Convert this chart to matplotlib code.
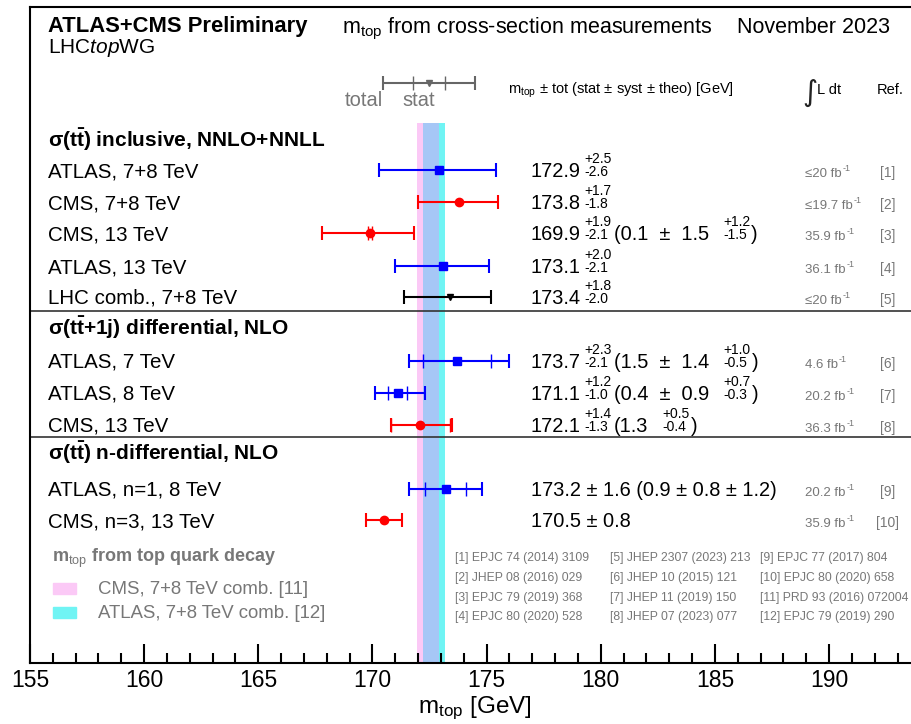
import matplotlib
matplotlib.use("Agg")
import matplotlib.pyplot as plt
from matplotlib.patches import Rectangle
from matplotlib.ticker import MultipleLocator

plt.rcParams['font.family'] = ['Liberation Sans', 'DejaVu Sans']
plt.rcParams['mathtext.fontset'] = 'custom'
plt.rcParams['mathtext.rm'] = 'Liberation Sans'
plt.rcParams['mathtext.it'] = 'Liberation Sans:italic'
plt.rcParams['mathtext.bf'] = 'Liberation Sans:bold'

W, H = 912, 724

# measurements
labels = ["ATLAS, 7+8 TeV", "CMS, 7+8 TeV", "CMS, 13 TeV", "ATLAS, 13 TeV",
          "LHC comb., 7+8 TeV", "ATLAS, 7 TeV", "ATLAS, 8 TeV", "CMS, 13 TeV",
          "ATLAS, n=1, 8 TeV", "CMS, n=3, 13 TeV"]
mtop = [172.9, 173.8, 169.9, 173.1, 173.4, 173.7, 171.1, 172.1, 173.2, 170.5]
tot_up = [2.5, 1.7, 1.9, 2.0, 1.8, 2.3, 1.2, 1.4, 1.6, 0.8]
tot_dn = [2.6, 1.8, 2.1, 2.1, 2.0, 2.1, 1.0, 1.3, 1.6, 0.8]
stat = [None, None, 0.1, None, None, 1.5, 0.4, 1.3, 0.9, None]
expt = ["ATLAS", "CMS", "CMS", "ATLAS", "LHC", "ATLAS", "ATLAS", "CMS", "ATLAS", "CMS"]

val_txt = ["172.9", "173.8", "169.9", "173.1", "173.4", "173.7", "171.1", "172.1",
           "173.2 ± 1.6 (0.9 ± 0.8 ± 1.2)", "170.5 ± 0.8"]
tot_txt = [("+2.5", "-2.6"), ("+1.7", "-1.8"), ("+1.9", "-2.1"), ("+2.0", "-2.1"),
           ("+1.8", "-2.0"), ("+2.3", "-2.1"), ("+1.2", "-1.0"), ("+1.4", "-1.3"), None, None]
brk_txt = [None, None, "(0.1  ±  1.5", None, None, "(1.5  ±  1.4", "(0.4  ±  0.9", "(1.3", None, None]
brk_ud = [None, None, ("+1.2", "-1.5"), None, None, ("+1.0", "-0.5"), ("+0.7", "-0.3"),
          ("+0.5", "-0.4"), None, None]
lumi = ["≤20", "≤19.7", "35.9", "36.1", "≤20", "4.6", "20.2", "36.3", "20.2", "35.9"]
refs = ["[1]", "[2]", "[3]", "[4]", "[5]", "[6]", "[7]", "[8]", "[9]", "[10]"]

headers = [r"σ(t$\mathbf{\bar{t}}$) inclusive, NNLO+NNLL",
           r"σ(t$\mathbf{\bar{t}}$+1j) differential, NLO",
           r"σ(t$\mathbf{\bar{t}}$) n-differential, NLO"]

# m_top from decay: combinations (centre, error)
cms_comb = (172.44, 0.48)
atlas_comb = (172.69, 0.48)

# legend key for total / stat
key_m, key_tot, key_stat = 172.48, 2.02, 0.70

bib = ["[1] EPJC 74 (2014) 3109", "[2] JHEP 08 (2016) 029", "[3] EPJC 79 (2019) 368",
       "[4] EPJC 80 (2020) 528", "[5] JHEP 2307 (2023) 213", "[6] JHEP 10 (2015) 121",
       "[7] JHEP 11 (2019) 150", "[8] JHEP 07 (2023) 077", "[9] EPJC 77 (2017) 804",
       "[10] EPJC 80 (2020) 658", "[11] PRD 93 (2016) 072004", "[12] EPJC 79 (2019) 290"]

# layout (pixel rows from top)
rows_y = [170, 202, 233, 266, 297, 361, 393, 425, 489, 520]
header_base = [147, 335, 460]
sep_y = [311, 436.5]

colors = {"ATLAS": "#0000ff", "CMS": "#ff0000", "LHC": "black"}
markers = {"ATLAS": "s", "CMS": "o", "LHC": "v"}
msize = {"ATLAS": 6, "CMS": 6, "LHC": 5}
grey = "#777777"

fig = plt.figure(figsize=(W / 100, H / 100), dpi=100)
ax = fig.add_axes([30 / W, (H - 663) / H, (914 - 30) / W, (663 - 7) / H])
ax.set_xlim(155, 193.72)
ax.set_ylim(663, 7)
ax.set_yticks([])
for s in ax.spines.values():
    s.set_linewidth(1.5)
ax.xaxis.set_major_locator(MultipleLocator(5))
ax.xaxis.set_minor_locator(MultipleLocator(1))
ax.tick_params(axis='x', which='major', direction='in', length=14, width=1.5,
               labelsize=16.5, pad=4)
ax.tick_params(axis='x', which='minor', direction='in', length=7, width=1.5)

# bands
band_y = [123, 663]
c_lo, c_hi = cms_comb[0] - cms_comb[1], cms_comb[0] + cms_comb[1]
a_lo, a_hi = atlas_comb[0] - atlas_comb[1], atlas_comb[0] + atlas_comb[1]
ax.fill_betweenx(band_y, c_lo, c_hi, color="#fbc9f6", lw=0, zorder=0)
ax.fill_betweenx(band_y, a_lo, a_hi, color="#70f4f4", lw=0, zorder=0)
ax.fill_betweenx(band_y, max(c_lo, a_lo), min(c_hi, a_hi), color="#a6c7f6", lw=0, zorder=0)

for y in sep_y:
    ax.axhline(y, color="#333333", lw=1.2, zorder=1)

# error bars
for i in range(len(mtop)):
    e = expt[i]
    c = colors[e]
    ax.errorbar(mtop[i], rows_y[i], xerr=[[tot_dn[i]], [tot_up[i]]], fmt=markers[e],
                color=c, ms=msize[e], lw=1.5, capsize=4.7, capthick=1.5, zorder=3)
    if stat[i] is not None:
        ax.plot([mtop[i] - stat[i], mtop[i] + stat[i]], [rows_y[i]] * 2, ls='none',
                marker='|', ms=9.4, mew=1.0, color=c, zorder=3)

# legend key (total / stat)
ax.errorbar(key_m, 83, xerr=key_tot, fmt='v', color="#666666", ms=4.5, lw=1.5,
            capsize=4.7, capthick=1.5, zorder=3)
ax.plot([key_m - key_stat, key_m + key_stat], [83, 83], ls='none', marker='|',
        ms=9.4, mew=1.0, color="#666666")

renderer = fig.canvas.get_renderer()


def put(x, yb, s, size, **kw):
    t = fig.text(x / W, 1 - yb / H, s, fontsize=size, va='baseline', ha='left', **kw)
    return t.get_window_extent(renderer).x1


def put_ud(x, yb, up, dn, size=10):
    x1 = put(x, yb - 14, up, size)
    x2 = put(x, yb - 1, dn, size)
    return max(x1, x2)


# header
put(48, 32, "ATLAS+CMS Preliminary", 15.8, fontweight='bold')
put(48, 53, r"LHC$\mathit{top}$WG", 15)
put(342, 33, r"m$_{\rm top}$ from cross-section measurements", 15.5)
put(737, 33, "November 2023", 15.5)
put(345, 106, "total", 14.5, color=grey)
put(402, 106, "stat", 14.5, color=grey)
put(508, 94, r"m$_{\rm top}$ ± tot (stat ± syst ± theo) [GeV]", 10.5)
put(802, 101, "∫", 21, family='DejaVu Sans', color="#222222")
put(817, 94, "L dt", 10.5)
put(877, 94, "Ref.", 10.5)

for yb, h in zip(header_base, headers):
    put(48, yb, h, 15, fontweight='bold')

for i in range(len(mtop)):
    yb = rows_y[i] + 7
    put(48, yb, labels[i], 14.8)
    x = put(531, yb, val_txt[i], 14.4)
    if tot_txt[i] is not None:
        x = put_ud(x + 3, yb, *tot_txt[i])
    if brk_txt[i] is not None:
        x = put(x + 3, yb, brk_txt[i], 14.4)
        x = put_ud(x + 14, yb, *brk_ud[i])
        put(x + 1, yb, ")", 14.4)
    xl = put(805, yb, lumi[i] + " fb", 9.5, color=grey)
    put(xl + 1, yb - 6, "-1", 6.5, color=grey)
    put(880 if len(refs[i]) == 3 else 876, yb, refs[i], 10, color=grey)

# decay legend
put(52, 562, r"m$_{\rm top}$ from top quark decay", 13, fontweight='bold', color=grey)
fig.patches.append(Rectangle((53 / W, 1 - 594 / H), 23 / W, 11 / H, color="#fbc9f6",
                             transform=fig.transFigure))
fig.patches.append(Rectangle((53 / W, 1 - 618 / H), 23 / W, 11 / H, color="#70f4f4",
                             transform=fig.transFigure))
put(98, 594, "CMS, 7+8 TeV comb. [11]", 13.4, color=grey)
put(98, 618, "ATLAS, 7+8 TeV comb. [12]", 13.4, color=grey)

# references
col_x = [455, 610, 760]
row_b = [561, 581, 601, 620]
for k, b in enumerate(bib):
    put(col_x[k // 4], row_b[k % 4], b, 8.7, color=grey)

put(418, 713, r"m$_{\rm top}$ [GeV]", 17.5)

fig.savefig("out.png", dpi=100)
